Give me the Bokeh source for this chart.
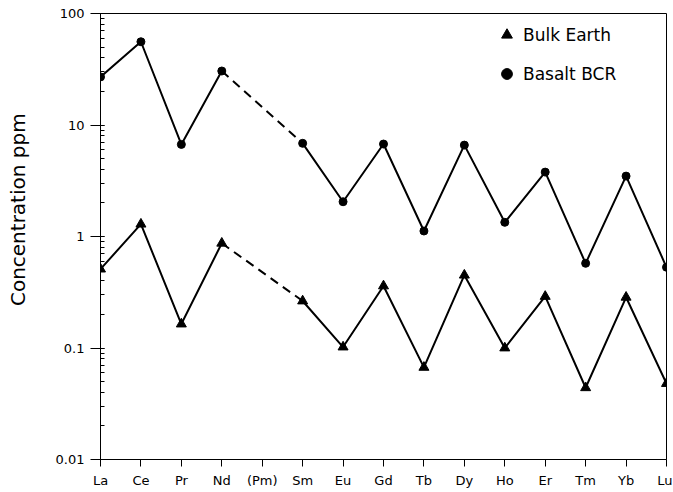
import math
from bokeh.plotting import figure
from bokeh.layouts import row
from bokeh.models import (Range1d, FixedTicker, LogTicker, CustomJSTickFormatter,
                          Legend, LegendItem, ColumnDataSource, Label)
from bokeh.embed import file_html
from bokeh.resources import INLINE

elements = ["La", "Ce", "Pr", "Nd", "(Pm)", "Sm", "Eu", "Gd", "Tb", "Dy", "Ho", "Er", "Tm", "Yb", "Lu"]
bulk_earth = [0.51, 1.29, 0.164, 0.87, float("nan"), 0.264, 0.102, 0.36, 0.067, 0.45, 0.10, 0.29, 0.044, 0.285, 0.048]
basalt_bcr = [27.0, 55.8, 6.7, 30.5, float("nan"), 6.85, 2.05, 6.75, 1.12, 6.6, 1.34, 3.78, 0.575, 3.48, 0.53]
y_ticks = [0.01, 0.1, 1, 10, 100]
y_title = "Concentration ppm"

FONT = "DejaVu Sans"
xs = list(range(len(elements)))

TITLE_W = 40
H = 491

# narrow strip holding the y-axis title (placed as in the reference)
ft = figure(width=TITLE_W, height=H, output_backend="svg", toolbar_location=None,
            x_axis_type=None, y_axis_type=None,
            x_range=Range1d(0, TITLE_W), y_range=Range1d(H, 0), min_border=0)
ft.outline_line_color = None
ft.background_fill_color = "white"
ft.border_fill_color = "white"
ft.add_layout(Label(x=17, y=216, text=y_title, angle=math.pi / 2,
                    text_align="center", text_baseline="middle",
                    text_font=FONT, text_font_size="20px", text_color="black"))

p = figure(width=672 - TITLE_W, height=H, output_backend="svg", toolbar_location=None,
           y_axis_type="log", x_range=Range1d(0, len(elements) - 1),
           y_range=Range1d(y_ticks[0], y_ticks[-1]),
           min_border_left=100 - TITLE_W, min_border_right=6, min_border_top=13,
           min_border_bottom=32)
p.xgrid.visible = False
p.ygrid.visible = False
p.outline_line_color = "black"
p.outline_line_width = 1
p.background_fill_color = "white"
p.border_fill_color = "white"

# x axis
p.xaxis.ticker = FixedTicker(ticks=xs, minor_ticks=[])
p.xaxis.major_label_overrides = {i: e for i, e in zip(xs, elements)}
p.xaxis.major_tick_out = 7
p.xaxis.major_tick_in = 0
p.xaxis.minor_tick_out = 0
p.xaxis.minor_tick_in = 0
p.xaxis.major_label_standoff = 6
p.xaxis.major_label_text_font = FONT
p.xaxis.major_label_text_font_size = "13px"
p.xaxis.major_label_text_color = "black"
p.xaxis.axis_line_color = "black"

# y axis
p.yaxis.ticker = LogTicker(desired_num_ticks=5, num_minor_ticks=10)
p.yaxis.formatter = CustomJSTickFormatter(code="return String(+tick.toPrecision(6));")
p.yaxis.major_tick_out = 10
p.yaxis.major_tick_in = 0
p.yaxis.minor_tick_out = 0
p.yaxis.minor_tick_in = 4
p.yaxis.major_label_standoff = 6
p.yaxis.major_label_text_font = FONT
p.yaxis.major_label_text_font_size = "13px"
p.yaxis.major_label_text_color = "black"
p.yaxis.axis_line_color = "black"

src_be = ColumnDataSource(dict(x=xs, y=bulk_earth))
src_ba = ColumnDataSource(dict(x=xs, y=basalt_bcr))

# solid lines (break at Pm)
p.line("x", "y", source=src_be, line_color="black", line_width=2)
p.line("x", "y", source=src_ba, line_color="black", line_width=2)

# dashed bridge across the missing Pm
i_nd, i_sm = elements.index("Nd"), elements.index("Sm")
p.line([xs[i_nd], xs[i_sm]], [bulk_earth[i_nd], bulk_earth[i_sm]],
       line_color="black", line_width=2, line_dash="9 6")
p.line([xs[i_nd], xs[i_sm]], [basalt_bcr[i_nd], basalt_bcr[i_sm]],
       line_color="black", line_width=2, line_dash="9 6")

r_be = p.scatter("x", "y", source=src_be, marker="triangle", size=10,
                 fill_color="black", line_color="black")
r_ba = p.scatter("x", "y", source=src_ba, marker="circle", size=8,
                 fill_color="black", line_color="black")

legend = Legend(items=[LegendItem(label="Bulk Earth", renderers=[r_be]),
                       LegendItem(label="Basalt BCR", renderers=[r_ba])],
                location=(393, 372))
legend.border_line_color = None
legend.background_fill_alpha = 0
legend.padding = 0
legend.margin = 0
legend.spacing = 12
legend.glyph_width = 27
legend.glyph_height = 27
legend.label_height = 27
legend.label_standoff = 3
legend.label_text_font = FONT
legend.label_text_font_size = "17px"
legend.label_text_color = "black"
p.add_layout(legend)

layout = row(ft, p, spacing=0)
open("out.html", "w").write(file_html(layout, INLINE))
